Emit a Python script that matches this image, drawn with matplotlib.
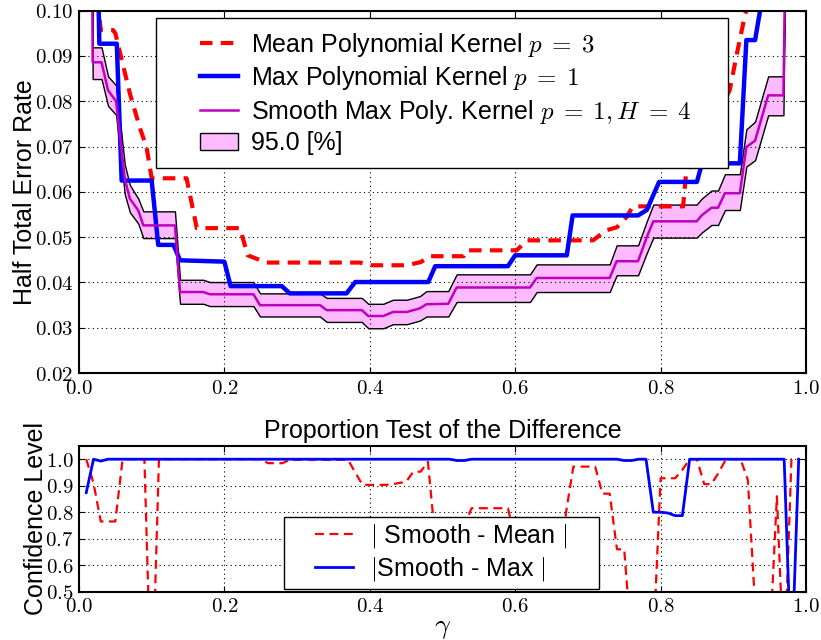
import matplotlib
matplotlib.use('Agg')
import matplotlib.pyplot as plt
from matplotlib.lines import Line2D
from matplotlib.patches import Patch, Rectangle
from matplotlib.ticker import FuncFormatter

plt.rcParams['font.family'] = ['Liberation Sans', 'DejaVu Sans']
plt.rcParams['mathtext.fontset'] = 'cm'

# ---- top panel: HTER vs gamma (breakpoints)
mean_x = [0.02, 0.03, 0.047, 0.05, 0.07, 0.084, 0.093, 0.10, 0.148, 0.162, 0.2215, 0.232,
          0.258, 0.3865, 0.40, 0.451, 0.47, 0.483, 0.529, 0.533, 0.602, 0.616, 0.707, 0.725,
          0.74, 0.753, 0.762, 0.831, 0.835, 0.895, 0.905, 0.916, 0.925, 0.945, 0.955, 0.965, 0.99]
mean_y = [0.11, 0.0957, 0.0957, 0.095, 0.0817, 0.074, 0.0698, 0.063, 0.063, 0.052, 0.052, 0.046,
          0.0444, 0.0444, 0.0438, 0.0438, 0.0445, 0.0458, 0.0458, 0.0471, 0.0471, 0.0493, 0.0493, 0.0515,
          0.0522, 0.0544, 0.0568, 0.0568, 0.064, 0.0824, 0.0905, 0.099, 0.104, 0.1005, 0.1005, 0.11, 0.11]

max_x = [0.02, 0.0266, 0.028, 0.052, 0.0587, 0.10, 0.109, 0.13, 0.139, 0.20, 0.2086, 0.279, 0.29,
         0.368, 0.38, 0.4805, 0.49, 0.59, 0.60, 0.671, 0.679, 0.769, 0.781, 0.798, 0.85, 0.857,
         0.909, 0.918, 0.93, 0.939, 0.99]
max_y = [0.11, 0.105, 0.0927, 0.0927, 0.0625, 0.0625, 0.0483, 0.0483, 0.0449, 0.0446, 0.0392, 0.0392, 0.0376,
         0.0376, 0.0401, 0.0401, 0.0436, 0.0436, 0.0460, 0.0460, 0.0548, 0.0548, 0.056, 0.0622, 0.0622, 0.0663,
         0.0663, 0.0935, 0.0935, 0.102, 0.11]

smooth_x = [0.0183, 0.0188, 0.031, 0.04, 0.051, 0.063, 0.07, 0.0816, 0.0885, 0.132, 0.139, 0.171,
            0.18, 0.24, 0.249, 0.3315, 0.3407, 0.389, 0.398, 0.4186, 0.432, 0.451, 0.469, 0.478,
            0.508, 0.5195, 0.6204, 0.6296, 0.730, 0.7396, 0.769, 0.781, 0.79, 0.8496, 0.8565, 0.870,
            0.879, 0.8886, 0.909, 0.918, 0.930, 0.948, 0.969, 0.971]
smooth_y = [0.105, 0.0886, 0.0886, 0.0824, 0.0800, 0.0629, 0.0585, 0.0559, 0.0526, 0.0526, 0.0379, 0.0379,
            0.0374, 0.0374, 0.0350, 0.0350, 0.0339, 0.0339, 0.0326, 0.0326, 0.0335, 0.0335, 0.0343, 0.0352,
            0.0353, 0.0389, 0.0389, 0.0410, 0.0410, 0.0447, 0.0447, 0.0500, 0.0535, 0.0535, 0.0548, 0.0565,
            0.0565, 0.0597, 0.0597, 0.0699, 0.0713, 0.0813, 0.0813, 0.105]
smooth_lo = [0.105, 0.0849, 0.0849, 0.0790, 0.0770, 0.0595, 0.0555, 0.0530, 0.0498, 0.0498, 0.0353, 0.0353,
             0.0348, 0.0348, 0.0325, 0.0325, 0.0313, 0.0313, 0.0299, 0.0299, 0.0308, 0.0308, 0.0316, 0.0325,
             0.0325, 0.0357, 0.0357, 0.0379, 0.0379, 0.0416, 0.0416, 0.0465, 0.0499, 0.0499, 0.0510, 0.0527,
             0.0527, 0.0560, 0.0560, 0.0656, 0.0670, 0.0769, 0.0769, 0.105]
smooth_hi = [0.105, 0.0919, 0.0919, 0.0855, 0.0835, 0.0660, 0.0615, 0.0585, 0.0557, 0.0557, 0.0406, 0.0406,
             0.0401, 0.0401, 0.0376, 0.0376, 0.0366, 0.0366, 0.0353, 0.0353, 0.0362, 0.0362, 0.0370, 0.0381,
             0.0381, 0.0418, 0.0418, 0.0440, 0.0440, 0.0482, 0.0482, 0.0535, 0.0572, 0.0572, 0.0585, 0.0603,
             0.0603, 0.0639, 0.0639, 0.0738, 0.0755, 0.0855, 0.0855, 0.105]

# ---- bottom panel: confidence level of the difference
sm_mean_x = [0.01, 0.02, 0.03, 0.05, 0.06, 0.09, 0.10, 0.11, 0.25, 0.26, 0.28, 0.29, 0.37, 0.38,
             0.39, 0.42, 0.43, 0.44, 0.45, 0.46, 0.47, 0.48, 0.49, 0.50, 0.51, 0.52, 0.53, 0.54,
             0.59, 0.60, 0.61, 0.62, 0.63, 0.65, 0.66, 0.67, 0.68, 0.71, 0.72, 0.73, 0.74, 0.75,
             0.76, 0.77, 0.78, 0.79, 0.80, 0.82, 0.83, 0.84, 0.85, 0.86, 0.87, 0.88, 0.89, 0.91,
             0.92, 0.93, 0.94, 0.95, 0.96, 0.97, 0.98, 0.99]
sm_mean_y = [1.0, 0.91, 0.765, 0.765, 1.0, 1.0, 0.05, 1.0, 1.0, 0.985, 0.985, 0.998, 0.998, 0.95,
             0.903, 0.903, 0.905, 0.91, 0.915, 0.953, 0.953, 0.99, 0.70, 0.60, 0.55, 0.60, 0.75, 0.815,
             0.815, 0.70, 0.58, 0.48, 0.40, 0.40, 0.55, 0.80, 0.972, 0.972, 0.87, 0.87, 0.66, 0.66,
             0.30, 0.20, 0.20, 0.30, 0.928, 0.928, 0.96, 1.0, 1.0, 0.906, 0.906, 0.95, 1.0, 1.0,
             0.922, 0.45, 0.20, 0.30, 0.86, 0.20, 1.0, 1.0]

sm_max_x = [0.01, 0.02, 0.03, 0.04, 0.51, 0.52, 0.53, 0.54, 0.74, 0.75, 0.76, 0.77, 0.78, 0.79,
            0.80, 0.81, 0.82, 0.83, 0.84, 0.97, 0.98, 0.99]
sm_max_y = [0.874, 1.0, 0.993, 1.0, 1.0, 0.995, 0.995, 1.0, 1.0, 0.995, 0.995, 1.0, 1.0, 0.80,
            0.80, 0.797, 0.787, 0.787, 1.0, 1.0, 0.2, 1.0]

FS = 18
fig = plt.figure(figsize=(8.21, 6.4), dpi=100)
ax1 = fig.add_axes([0.0962, 0.417, 0.8855, 0.5664])
ax2 = fig.add_axes([0.0962, 0.0755, 0.8855, 0.2277])


def style(ax, fmt):
    ax.grid(True, color='k', linestyle=(0, (1, 3)), linewidth=0.8)
    ax.tick_params(direction='in', top=True, right=True, length=4, labelsize=15, pad=4)
    ax.xaxis.set_major_formatter(FuncFormatter(lambda v, p: '$%.1f$' % v))
    ax.yaxis.set_major_formatter(FuncFormatter(lambda v, p: fmt % v))
    for s in ax.spines.values():
        s.set_linewidth(1.5)
    ax.set_xlim(0, 1)
    ax.set_xticks([0.0, 0.2, 0.4, 0.6, 0.8, 1.0])


# top
ax1.fill_between(smooth_x, smooth_lo, smooth_hi, facecolor='#ffbbff', edgecolor='k', linewidth=1.0)
ax1.plot(mean_x, mean_y, color='red', linewidth=3, dashes=(3, 2))
ax1.plot(max_x, max_y, color='blue', linewidth=3.2)
ax1.plot(smooth_x, smooth_y, color='#c000c0', linewidth=1.8)
ax1.set_ylim(0.02, 0.10)
ax1.set_yticks([0.02, 0.03, 0.04, 0.05, 0.06, 0.07, 0.08, 0.09, 0.10])
style(ax1, '$%.2f$')
ax1.set_ylabel('Half Total Error Rate', fontsize=FS, labelpad=-2)

ax1.add_patch(Rectangle((0.1055, 0.565), 0.7875, 0.416, transform=ax1.transAxes,
                        facecolor='white', edgecolor='k', linewidth=1.0, zorder=4))
handles = [Line2D([], [], color='red', linewidth=3, dashes=(3, 2)),
           Line2D([], [], color='blue', linewidth=3.2),
           Line2D([], [], color='#c000c0', linewidth=1.8),
           Patch(facecolor='#ffbbff', edgecolor='k', linewidth=1.0)]
labels = [r'Mean Polynomial Kernel $p\;=\;3$', r'Max Polynomial Kernel $p\;=\;1$',
          r'Smooth Max Poly. Kernel $p\;=\;1,H\;=\;4$', '95.0 [%]']
leg = ax1.legend(handles, labels, loc='center', bbox_to_anchor=(0.505, 0.773), frameon=False,
                 fontsize=FS, handlelength=1.5, handletextpad=0.55, labelspacing=0.22)
leg.set_zorder(5)

# bottom
ax2.plot(sm_mean_x, sm_mean_y, color='red', linewidth=1.6, dashes=(4, 2.5))
ax2.plot(sm_max_x, sm_max_y, color='blue', linewidth=2)
ax2.set_ylim(0.5, 1.05)
ax2.set_yticks([0.5, 0.6, 0.7, 0.8, 0.9, 1.0])
style(ax2, '$%.1f$')
ax2.set_ylabel('Confidence Level', fontsize=FS, labelpad=-2)
ax2.set_xlabel(r'$\gamma$', fontsize=20, labelpad=-1)
ax2.set_title('Proportion Test of the Difference', fontsize=FS)

ax2.add_patch(Rectangle((0.282, 0.0185), 0.433, 0.494, transform=ax2.transAxes,
                        facecolor='white', edgecolor='k', linewidth=1.0, zorder=4))
handles2 = [Line2D([], [], color='red', linewidth=1.6, dashes=(4, 2.5)),
            Line2D([], [], color='blue', linewidth=2)]
leg2 = ax2.legend(handles2, ['$|$ Smooth - Mean $|$', '$|$Smooth - Max $|$'], loc='center',
                  bbox_to_anchor=(0.4985, 0.266), frameon=False, fontsize=FS,
                  handlelength=1.5, handletextpad=0.7, labelspacing=0.2)
leg2.set_zorder(5)

fig.savefig('out.png', dpi=100)
